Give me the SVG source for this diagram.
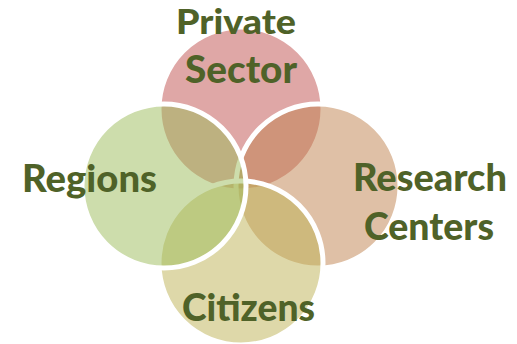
<svg xmlns="http://www.w3.org/2000/svg" width="517" height="344" viewBox="0 0 517 344">
<style>
.c{stroke:#FFFFFF;stroke-width:5;fill-opacity:0.5}
.t{font-family:Lato,"Liberation Sans",sans-serif;font-weight:900;font-size:37px;fill:#4F6228}
</style>
<rect width="517" height="344" fill="#FFFFFF"/>
<g id="private-sector-circle"><circle class="c" cx="241" cy="109" r="82" fill="#C0504D"/></g>
<g id="research-centers-circle"><circle class="c" cx="318" cy="186" r="82" fill="#C0814D"/></g>
<g id="citizens-circle"><circle class="c" cx="241" cy="263" r="82" fill="#BEB254"/></g>
<g id="regions-circle"><circle class="c" cx="164" cy="186" r="82" fill="#9BBB59"/></g>
<g id="connectors"></g>
<g id="private-sector"><text class="t" x="176" y="34" style="font-size:35px" textLength="120" lengthAdjust="spacingAndGlyphs">Private</text><text class="t" x="185" y="83" textLength="112" lengthAdjust="spacingAndGlyphs">Sector</text></g>
<g id="regions"><text class="t" x="22" y="192" textLength="135" lengthAdjust="spacingAndGlyphs">Regions</text></g>
<g id="research-centers"><text class="t" x="353" y="191" textLength="154" lengthAdjust="spacingAndGlyphs">Research</text><text class="t" x="364" y="240" textLength="130" lengthAdjust="spacingAndGlyphs">Centers</text></g>
<g id="citizens"><text class="t" x="182" y="321" textLength="133" lengthAdjust="spacingAndGlyphs">Citizens</text></g>
</svg>
